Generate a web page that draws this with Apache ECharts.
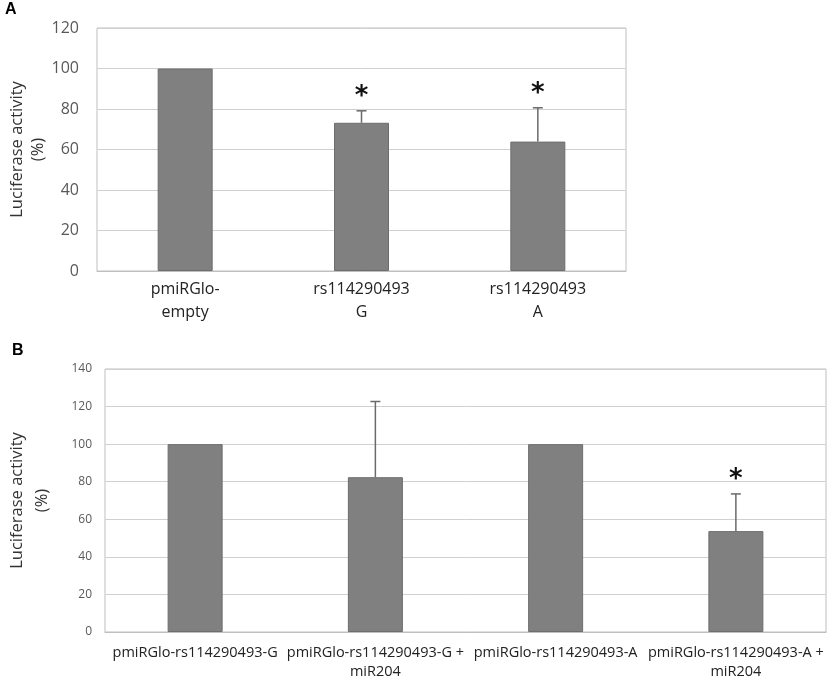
<!DOCTYPE html>
<html lang="en">
<head>
    <meta charset="UTF-8">
    <title>Luciferase activity</title>
    <script src="https://cdn.jsdelivr.net/npm/echarts@6/dist/echarts.min.js"></script>
    <style>
        html, body { margin: 0; padding: 0; background: #fff; }
        #chart { width: 829px; height: 680px; }
    </style>
</head>
<body>
    <div id="chart"></div>

    <script>
        // Panel A data
        var catsA = ['pmiRGlo-\nempty', 'rs114290493\nG', 'rs114290493\nA'];
        var meanA = [100, 73.2, 63.9];
        var errA = [0, 5.9, 16.7];
        var starA = [0, 1, 1];

        // Panel B data
        var catsB = ['pmiRGlo-rs114290493-G', 'pmiRGlo-rs114290493-G +\nmiR204', 'pmiRGlo-rs114290493-A', 'pmiRGlo-rs114290493-A +\nmiR204'];
        var meanB = [100, 82.4, 100, 53.7];
        var errB = [0, 40.3, 0, 19.8];
        var starB = [0, 0, 0, 1];

        var font = '"Open Sans", sans-serif';
        var barColor = '#808080';

        // error bar (upper only) with optional significance star
        function errorRender(params, api) {
            var x = api.value(0);
            var p0 = api.coord([x, api.value(1)]);
            var p1 = api.coord([x, api.value(2)]);
            var children = [];
            if (api.value(2) > api.value(1)) {
                children.push({
                    type: 'line',
                    shape: { x1: p0[0], y1: p0[1], x2: p1[0], y2: p1[1] },
                    style: { stroke: '#6a6a6a', lineWidth: 1.5 }
                });
                children.push({
                    type: 'line',
                    shape: { x1: p1[0] - 5, y1: p1[1], x2: p1[0] + 5, y2: p1[1] },
                    style: { stroke: '#6a6a6a', lineWidth: 1.5 }
                });
            }
            if (api.value(3)) {
                children.push({
                    type: 'text',
                    x: p1[0],
                    y: p1[1] - 14,
                    style: {
                        text: '*', fontSize: 26, fontWeight: 'bold', fontFamily: 'DejaVu Sans',
                        fill: '#111', align: 'center', verticalAlign: 'middle'
                    }
                });
            }
            return { type: 'group', children: children };
        }

        function errData(mean, err, star) {
            return mean.map(function (m, i) { return [i, m, m + err[i], star[i]]; });
        }

        var chart = echarts.init(document.getElementById('chart'));

        var option = {
            animation: false,
            graphic: [
                { type: 'text', left: 5, top: 2, style: { text: 'A', fontSize: 16, fontWeight: 'bold', fontFamily: 'Liberation Sans', fill: '#000' } },
                { type: 'text', left: 12, top: 343, style: { text: 'B', fontSize: 16, fontWeight: 'bold', fontFamily: 'Liberation Sans', fill: '#000' } }
            ],
            grid: [
                { left: 97, top: 28, width: 529, height: 243, show: true, borderColor: '#bfbfbf', borderWidth: 1, containLabel: false, outerBoundsMode: 'none' },
                { left: 105, top: 369, width: 721, height: 263, show: true, borderColor: '#bfbfbf', borderWidth: 1, containLabel: false, outerBoundsMode: 'none' }
            ],
            xAxis: [
                {
                    gridIndex: 0, type: 'category', data: catsA,
                    axisLine: { lineStyle: { color: '#bfbfbf' } },
                    axisTick: { show: false },
                    axisLabel: { color: '#222', fontSize: 16, fontFamily: font, lineHeight: 23, margin: 7 }
                },
                {
                    gridIndex: 1, type: 'category', data: catsB,
                    axisLine: { lineStyle: { color: '#bfbfbf' } },
                    axisTick: { show: false },
                    axisLabel: { color: '#222', fontSize: 14.5, fontFamily: font, lineHeight: 19, margin: 11, interval: 0 }
                }
            ],
            yAxis: [
                {
                    gridIndex: 0, type: 'value', min: 0, max: 120, interval: 20,
                    name: 'Luciferase activity\n(%)', nameLocation: 'middle', nameGap: 48, nameRotate: 90,
                    nameMoveOverlap: false,
                    nameTextStyle: { color: '#333', fontSize: 16.5, fontFamily: font, lineHeight: 21 },
                    axisLine: { show: false }, axisTick: { show: false },
                    axisLabel: { color: '#595959', fontSize: 16, fontFamily: font, margin: 18 },
                    splitLine: { lineStyle: { color: '#d0d0d0' } }
                },
                {
                    gridIndex: 1, type: 'value', min: 0, max: 140, interval: 20,
                    name: 'Luciferase activity\n(%)', nameLocation: 'middle', nameGap: 50, nameRotate: 90,
                    nameMoveOverlap: false,
                    nameTextStyle: { color: '#333', fontSize: 16.5, fontFamily: font, lineHeight: 25 },
                    axisLine: { show: false }, axisTick: { show: false },
                    axisLabel: { color: '#595959', fontSize: 12, fontFamily: font, margin: 13 },
                    splitLine: { lineStyle: { color: '#d0d0d0' } }
                }
            ],
            series: [
                {
                    type: 'bar', xAxisIndex: 0, yAxisIndex: 0, data: meanA, barWidth: 55,
                    itemStyle: { color: barColor, borderColor: '#6d6d6d', borderWidth: 1 }
                },
                {
                    type: 'custom', xAxisIndex: 0, yAxisIndex: 0, data: errData(meanA, errA, starA),
                    renderItem: errorRender, z: 5
                },
                {
                    type: 'bar', xAxisIndex: 1, yAxisIndex: 1, data: meanB, barWidth: 55,
                    itemStyle: { color: barColor, borderColor: '#6d6d6d', borderWidth: 1 }
                },
                {
                    type: 'custom', xAxisIndex: 1, yAxisIndex: 1, data: errData(meanB, errB, starB),
                    renderItem: errorRender, z: 5
                }
            ]
        };

        chart.setOption(option);
    </script>
</body>
</html>
